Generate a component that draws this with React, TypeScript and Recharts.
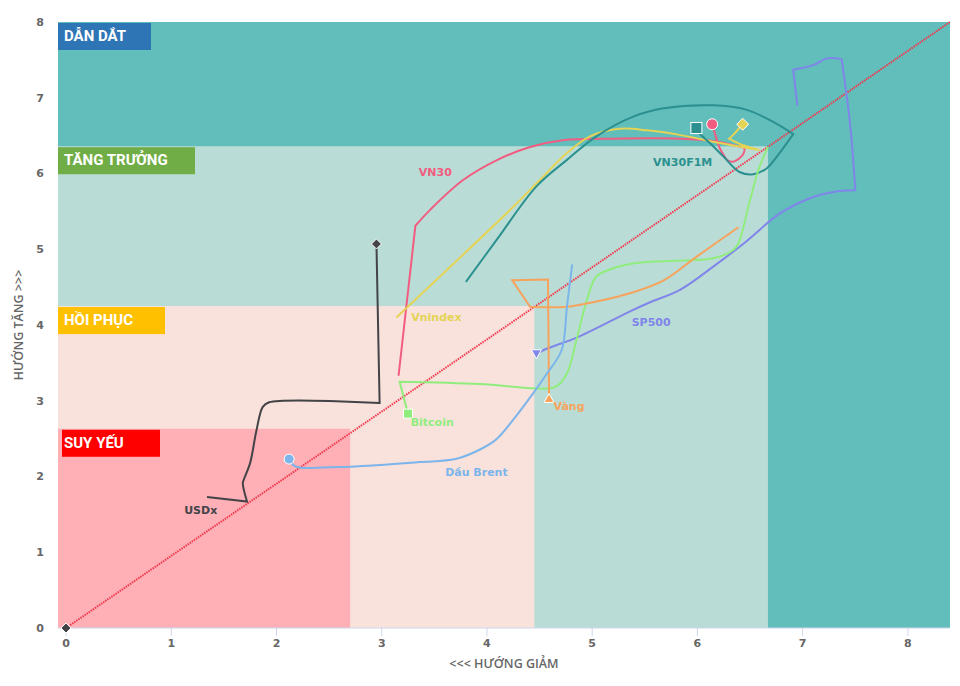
import {
  ComposedChart,
  XAxis,
  YAxis,
  Line,
  Scatter,
  ReferenceArea,
  ReferenceLine,
} from "recharts";

type Pt = { x: number; y: number };

// trajectories, oldest point first, latest (marked) point last
const vn30: Pt[] = [
  { x: 3.16, y: 3.33 }, { x: 3.32, y: 5.31 }, { x: 3.46, y: 5.52 }, { x: 3.77, y: 5.91 },
  { x: 4.1, y: 6.18 }, { x: 4.41, y: 6.35 }, { x: 4.72, y: 6.44 }, { x: 5.2, y: 6.46 },
  { x: 5.83, y: 6.46 }, { x: 6.15, y: 6.43 }, { x: 6.45, y: 6.34 }, { x: 6.44, y: 6.27 },
  { x: 6.4, y: 6.2 }, { x: 6.35, y: 6.16 }, { x: 6.31, y: 6.16 }, { x: 6.28, y: 6.18 },
  { x: 6.26, y: 6.22 }, { x: 6.21, y: 6.34 }, { x: 6.17, y: 6.51 }, { x: 6.14, y: 6.65 },
];

const vnindex: Pt[] = [
  { x: 3.14, y: 4.1 }, { x: 4.25, y: 5.56 }, { x: 4.5, y: 5.91 }, { x: 4.76, y: 6.27 },
  { x: 4.98, y: 6.49 }, { x: 5.26, y: 6.59 }, { x: 5.52, y: 6.57 }, { x: 5.83, y: 6.51 },
  { x: 6.15, y: 6.42 }, { x: 6.59, y: 6.31 }, { x: 6.42, y: 6.38 }, { x: 6.3, y: 6.46 },
  { x: 6.34, y: 6.51 }, { x: 6.43, y: 6.65 },
];

const vn30f1m: Pt[] = [
  { x: 3.8, y: 4.57 }, { x: 4.09, y: 5.12 }, { x: 4.47, y: 5.83 }, { x: 4.76, y: 6.18 },
  { x: 5.04, y: 6.49 }, { x: 5.39, y: 6.75 }, { x: 5.68, y: 6.86 }, { x: 6.15, y: 6.9 },
  { x: 6.47, y: 6.84 }, { x: 6.72, y: 6.68 }, { x: 6.91, y: 6.52 }, { x: 6.78, y: 6.27 },
  { x: 6.66, y: 6.07 }, { x: 6.53, y: 5.99 }, { x: 6.4, y: 6.02 }, { x: 6.25, y: 6.22 },
  { x: 6.12, y: 6.4 }, { x: 6.02, y: 6.53 }, { x: 5.99, y: 6.6 },
];

const sp500: Pt[] = [
  { x: 6.95, y: 6.9 }, { x: 6.91, y: 7.37 }, { x: 7.1, y: 7.43 }, { x: 7.23, y: 7.52 },
  { x: 7.37, y: 7.51 }, { x: 7.45, y: 6.66 }, { x: 7.5, y: 5.78 }, { x: 7.35, y: 5.77 },
  { x: 7.1, y: 5.69 }, { x: 6.78, y: 5.47 }, { x: 6.47, y: 5.11 }, { x: 6.15, y: 4.77 },
  { x: 5.83, y: 4.46 }, { x: 5.55, y: 4.3 }, { x: 5.36, y: 4.18 }, { x: 4.88, y: 3.85 },
  { x: 4.54, y: 3.67 }, { x: 4.47, y: 3.62 },
];

const bitcoin: Pt[] = [
  { x: 6.67, y: 6.35 }, { x: 6.59, y: 6.09 }, { x: 6.5, y: 5.65 }, { x: 6.39, y: 5.08 },
  { x: 6.34, y: 4.99 }, { x: 6.15, y: 4.88 }, { x: 5.83, y: 4.85 }, { x: 5.42, y: 4.82 },
  { x: 5.2, y: 4.75 }, { x: 5.04, y: 4.64 }, { x: 4.95, y: 4.33 }, { x: 4.85, y: 3.8 },
  { x: 4.76, y: 3.36 }, { x: 4.66, y: 3.19 }, { x: 4.57, y: 3.16 }, { x: 3.93, y: 3.22 },
  { x: 3.17, y: 3.25 }, { x: 3.25, y: 2.83 },
];

const vang: Pt[] = [
  { x: 6.39, y: 5.29 }, { x: 5.99, y: 4.9 }, { x: 5.68, y: 4.59 }, { x: 5.36, y: 4.42 },
  { x: 5.04, y: 4.31 }, { x: 4.76, y: 4.24 }, { x: 4.41, y: 4.24 }, { x: 4.24, y: 4.59 },
  { x: 4.58, y: 4.6 }, { x: 4.59, y: 3.03 },
];

const dauBrent: Pt[] = [
  { x: 4.81, y: 4.8 }, { x: 4.76, y: 4.24 }, { x: 4.71, y: 3.67 }, { x: 4.57, y: 3.36 },
  { x: 4.44, y: 3.1 }, { x: 4.25, y: 2.75 }, { x: 4.08, y: 2.48 }, { x: 3.91, y: 2.34 },
  { x: 3.7, y: 2.23 }, { x: 3.36, y: 2.19 }, { x: 2.7, y: 2.13 }, { x: 2.22, y: 2.12 },
  { x: 2.16, y: 2.15 }, { x: 2.12, y: 2.23 },
];

const usdx: Pt[] = [
  { x: 1.34, y: 1.73 }, { x: 1.72, y: 1.67 }, { x: 1.68, y: 1.91 }, { x: 1.69, y: 1.96 },
  { x: 1.75, y: 2.18 }, { x: 1.81, y: 2.61 }, { x: 1.87, y: 2.92 }, { x: 1.93, y: 2.98 },
  { x: 2.98, y: 2.97 }, { x: 2.95, y: 5.07 },
];

const originMark: Pt[] = [{ x: 0, y: 0 }];

const xTicks = [0, 1, 2, 3, 4, 5, 6, 7, 8];
const yTicks = [0, 1, 2, 3, 4, 5, 6, 7, 8];

const xDomain: [number, number] = [-0.076, 8.4];

// quadrant zones: name, upper-right corner
const zones = [
  { name: "DẪN DẮT", x2: 8.4, y2: 8, fill: "#61bebb", tag: "#2e75b6", tagW: 93, dx: 0 },
  { name: "TĂNG TRƯỞNG", x2: 6.67, y2: 6.36, fill: "#b9ddd6", tag: "#70ad47", tagW: 137, dx: 0 },
  { name: "HỒI PHỤC", x2: 4.45, y2: 4.25, fill: "#f8e2db", tag: "#ffc000", tagW: 107, dx: 0 },
  { name: "SUY YẾU", x2: 2.7, y2: 2.63, fill: "#ffb0b6", tag: "#ff0000", tagW: 98, dx: 4 },
];

type Mark = "circle" | "square" | "diamond" | "triangle" | "triangle-down";

const series = [
  { name: "VN30", data: vn30, color: "#f15c80", mark: "circle" as Mark, r: 5.5, bend: 30, at: { x: 3.51, y: 6.01 } },
  { name: "Vnindex", data: vnindex, color: "#e4d354", mark: "diamond" as Mark, r: 6, bend: 50, at: { x: 3.52, y: 4.1 } },
  { name: "VN30F1M", data: vn30f1m, color: "#2b908f", mark: "square" as Mark, r: 5.5, bend: 50, at: { x: 5.86, y: 6.14 } },
  { name: "SP500", data: sp500, color: "#8085e9", mark: "triangle-down" as Mark, r: 5, bend: 50, at: { x: 5.56, y: 4.03 } },
  { name: "Bitcoin", data: bitcoin, color: "#90ed7d", mark: "square" as Mark, r: 4.5, bend: 50, at: { x: 3.48, y: 2.71 } },
  { name: "Vàng", data: vang, color: "#f7a35c", mark: "triangle" as Mark, r: 5, bend: 50, at: { x: 4.78, y: 2.93 } },
  { name: "Dầu Brent", data: dauBrent, color: "#7cb5ec", mark: "circle" as Mark, r: 5, bend: 50, at: { x: 3.9, y: 2.05 } },
  { name: "USDx", data: usdx, color: "#434348", mark: "diamond" as Mark, r: 5, bend: 50, at: { x: 1.28, y: 1.55 } },
];

const FONT = "'DejaVu Sans', Verdana, sans-serif";

// centripetal catmull-rom; turns sharper than `bend` degrees stay corners
function smoothCurve(bend: number) {
  return (ctx: any) => {
    let pts: number[][] = [];
    const len = (a: number[], b: number[]) => Math.sqrt(Math.hypot(b[0] - a[0], b[1] - a[1]));
    const turn = (a: number[], b: number[], c: number[]) => {
      const u = Math.atan2(b[1] - a[1], b[0] - a[0]);
      const v = Math.atan2(c[1] - b[1], c[0] - b[0]);
      let d = Math.abs(v - u);
      if (d > Math.PI) d = 2 * Math.PI - d;
      return (d * 180) / Math.PI;
    };
    return {
      areaStart() {},
      areaEnd() {},
      lineStart() {
        pts = [];
      },
      point(x: number, y: number) {
        pts.push([+x, +y]);
      },
      lineEnd() {
        const n = pts.length;
        if (!n) return;
        const corner = pts.map((p, i) => i === 0 || i === n - 1 || turn(pts[i - 1], p, pts[i + 1]) > bend);
        ctx.moveTo(pts[0][0], pts[0][1]);
        for (let i = 0; i < n - 1; i++) {
          const p1 = pts[i];
          const p2 = pts[i + 1];
          const p0 = corner[i] ? p1 : pts[i - 1];
          const p3 = corner[i + 1] ? p2 : pts[i + 2];
          const l01 = len(p0, p1);
          const l12 = len(p1, p2);
          const l23 = len(p2, p3);
          let c1 = p1;
          let c2 = p2;
          if (l01 > 1e-6 && l12 > 1e-6) {
            const a = 2 * l01 * l01 + 3 * l01 * l12 + l12 * l12;
            const m = 3 * l01 * (l01 + l12);
            c1 = [0, 1].map((k) => (p1[k] * a - p0[k] * l12 * l12 + p2[k] * l01 * l01) / m);
          }
          if (l23 > 1e-6 && l12 > 1e-6) {
            const b = 2 * l23 * l23 + 3 * l23 * l12 + l12 * l12;
            const m = 3 * l23 * (l23 + l12);
            c2 = [0, 1].map((k) => (p2[k] * b + p1[k] * l23 * l23 - p3[k] * l12 * l12) / m);
          }
          ctx.bezierCurveTo(c1[0], c1[1], c2[0], c2[1], p2[0], p2[1]);
        }
      },
    };
  };
}

function markerShape(mark: Mark, color: string, r: number) {
  return (p: any) => {
    const { cx, cy } = p;
    const common = { fill: color, stroke: "#ffffff", strokeWidth: 1 };
    if (mark === "circle") return <circle cx={cx} cy={cy} r={r} {...common} />;
    if (mark === "square")
      return <rect x={cx - r} y={cy - r} width={r * 2} height={r * 2} {...common} />;
    if (mark === "diamond")
      return <path d={`M${cx},${cy - r}L${cx + r},${cy}L${cx},${cy + r}L${cx - r},${cy}Z`} {...common} />;
    if (mark === "triangle")
      return <path d={`M${cx},${cy - r}L${cx + r},${cy + r * 0.8}L${cx - r},${cy + r * 0.8}Z`} {...common} />;
    return <path d={`M${cx - r},${cy - r * 0.8}L${cx + r},${cy - r * 0.8}L${cx},${cy + r}Z`} {...common} />;
  };
}

function nameShape(text: string, color: string) {
  return (p: any) => (
    <text
      x={p.cx}
      y={p.cy}
      textAnchor="middle"
      dominantBaseline="central"
      fill={color}
      fontFamily={FONT}
      fontSize={11}
      fontWeight="bold"
    >
      {text}
    </text>
  );
}

function zoneShape(z: (typeof zones)[number]) {
  return (p: any) => (
    <g>
      <rect x={p.x} y={p.y} width={p.width} height={p.height} fill={z.fill} />
      <rect x={p.x + z.dx} y={p.y + 1} width={z.tagW} height={27} fill={z.tag} />
      <text
        x={p.x + 6}
        y={p.y + 19}
        fill="#ffffff"
        fontFamily="Roboto, sans-serif"
        fontWeight="bold"
        fontSize={15}
      >
        {z.name}
      </text>
    </g>
  );
}

export default function App() {
  return (
    <ComposedChart
      width={952}
      height={678}
      margin={{ top: 14, right: 10, bottom: 8, left: 0 }}
      style={{ fontFamily: FONT }}
    >
      {zones.map((z) => (
        <ReferenceArea
          key={z.name}
          x1={xDomain[0]}
          x2={z.x2}
          y1={0}
          y2={z.y2}
          shape={zoneShape(z)}
          ifOverflow="visible"
        />
      ))}

      <XAxis
        type="number"
        dataKey="x"
        domain={xDomain}
        ticks={xTicks}
        interval={0}
        allowDataOverflow
        height={50}
        tickSize={8}
        tickMargin={3}
        stroke="#ccd6eb"
        tick={{ fill: "#666666", fontSize: 11, fontWeight: "bold", fontFamily: FONT }}
        label={{
          content: (p: any) => {
            const vb = p.viewBox;
            return (
              <text
                x={vb.x + vb.width / 2}
                y={vb.y + 35}
                textAnchor="middle"
                dominantBaseline="central"
                fill="#666666"
                fontFamily="'Open Sans', sans-serif"
                fontWeight={600}
                fontSize={12.5}
              >
                {"<<< HƯỚNG GIẢM"}
              </text>
            );
          },
        }}
      />
      <YAxis
        type="number"
        dataKey="y"
        domain={[0, 8]}
        ticks={yTicks}
        interval={0}
        width={50}
        axisLine={false}
        tickLine={false}
        tickSize={0}
        tickMargin={14}
        tick={{ fill: "#666666", fontSize: 11, fontWeight: "bold", fontFamily: FONT }}
        label={{
          content: (p: any) => {
            const vb = p.viewBox;
            const cx = 10;
            const cy = vb.y + vb.height / 2;
            return (
              <text
                x={cx}
                y={cy}
                transform={`rotate(-90, ${cx}, ${cy})`}
                textAnchor="middle"
                dominantBaseline="central"
                fill="#666666"
                fontFamily="'Open Sans', sans-serif"
                fontWeight={600}
                fontSize={12.5}
              >
                {"HƯỚNG TĂNG >>>"}
              </text>
            );
          },
        }}
      />

      <ReferenceLine
        segment={[
          { x: 0, y: 0 },
          { x: 8.4, y: 8 },
        ]}
        stroke="#f2384d"
        strokeWidth={2}
        strokeDasharray="1.5 1"
        ifOverflow="visible"
      />

      {series.map((s) => (
        <Line
          key={s.name}
          data={s.data}
          dataKey="y"
          type={smoothCurve(s.bend) as any}
          stroke={s.color}
          strokeWidth={2}
          dot={false}
          activeDot={false}
          isAnimationActive={false}
        />
      ))}

      {series.map((s) => (
        <Scatter
          key={s.name + "-mark"}
          data={[s.data[s.data.length - 1]]}
          dataKey="y"
          shape={markerShape(s.mark, s.color, s.r)}
          isAnimationActive={false}
        />
      ))}

      <Scatter
        data={originMark}
        dataKey="y"
        shape={markerShape("diamond", "#434348", 5)}
        isAnimationActive={false}
      />

      {series.map((s) => (
        <Scatter
          key={s.name + "-label"}
          data={[s.at]}
          dataKey="y"
          shape={nameShape(s.name, s.color)}
          isAnimationActive={false}
        />
      ))}
    </ComposedChart>
  );
}
